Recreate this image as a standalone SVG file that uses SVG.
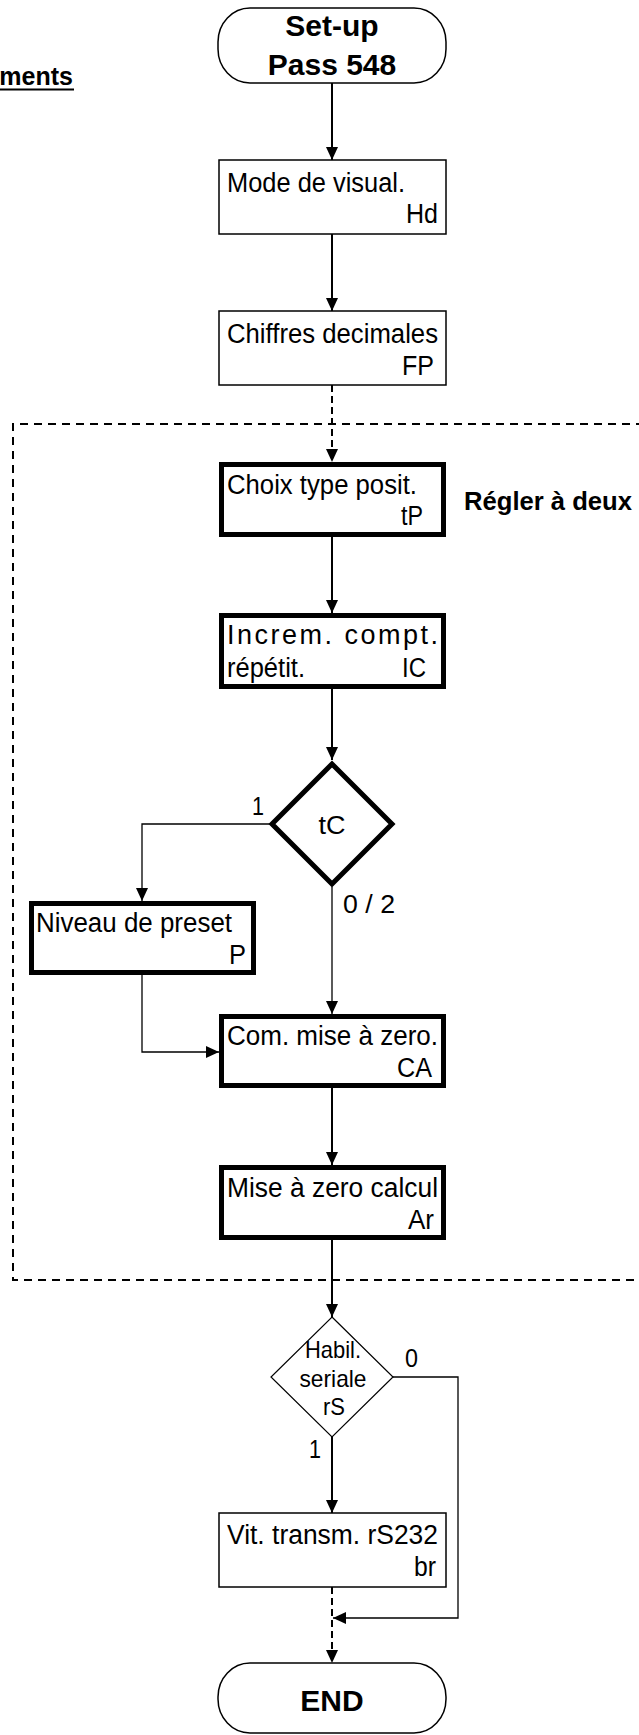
<svg xmlns="http://www.w3.org/2000/svg" width="639" height="1735" viewBox="0 0 639 1735">
  <style>
    .bg { fill: #ffffff; }
    .term { fill: #ffffff; stroke: #000; stroke-width: 1.5; }
    .box { fill: #ffffff; stroke: #000; stroke-width: 1.5; }
    .boxb { fill: #ffffff; stroke: #000; stroke-width: 5; }
    .dia { fill: #ffffff; stroke: #000; stroke-width: 1.2; }
    .diab { fill: #ffffff; stroke: #000; stroke-width: 5; stroke-linejoin: miter; }
    .wire { fill: none; stroke: #000; stroke-width: 2; }
    .wire-thin { fill: none; stroke: #000; stroke-width: 1.3; }
    .dash { fill: none; stroke: #000; stroke-width: 2; stroke-dasharray: 7 4; }
    .frame { fill: none; stroke: #000; stroke-width: 2; stroke-dasharray: 8 6; }
    text { font-family: "Liberation Sans", Arial, sans-serif; fill: #000; }
    .t { font-size: 27px; }
    .lbl { font-size: 26px; }
    .dt { font-size: 24px; }
    .tt { font-size: 30px; font-weight: bold; }
    .hd { font-size: 25px; font-weight: bold; }
    .hd2 { font-size: 26px; font-weight: bold; }
    .mid { text-anchor: middle; }
    .end { text-anchor: end; }
  </style>
  <defs>
    <marker id="arrow" markerUnits="userSpaceOnUse" markerWidth="13" markerHeight="12" refX="13" refY="6" orient="auto">
      <path d="M0,0 L13,6 L0,12 z" fill="#000"/>
    </marker>
  </defs>

  <rect class="bg" x="0" y="0" width="639" height="1735"/>

  <!-- section heading, partly outside the page -->
  <g id="heading">
    <text class="hd end" x="73" y="85">ments</text>
    <rect x="0" y="88.5" width="74" height="2" fill="#000"/>
  </g>

  <!-- group frame for two-step settings -->
  <g id="frame-group">
    <path class="frame" d="M700,424 H13 V1280 H700"/>
    <text class="hd2" x="464" y="510" textLength="168" lengthAdjust="spacingAndGlyphs">Régler à deux</text>
  </g>

  <!-- connectors -->
  <g id="connectors">
    <path class="wire" d="M332,83 V160" marker-end="url(#arrow)"/>
    <path class="wire" d="M332,234 V311" marker-end="url(#arrow)"/>
    <path class="dash" d="M332,385 V462" marker-end="url(#arrow)"/>
    <path class="wire" d="M332,537 V613" marker-end="url(#arrow)"/>
    <path class="wire" d="M332,689 V760" marker-end="url(#arrow)"/>
    <path class="wire-thin" d="M271,824 H142 V901" marker-end="url(#arrow)"/>
    <path class="wire-thin" d="M332,887 V1014" marker-end="url(#arrow)"/>
    <path class="wire-thin" d="M142,975 V1052 H219" marker-end="url(#arrow)"/>
    <path class="wire" d="M332,1088 V1165" marker-end="url(#arrow)"/>
    <path class="wire" d="M332,1240 V1317" marker-end="url(#arrow)"/>
    <path class="wire-thin" d="M393,1377 H458 V1618 H333" marker-end="url(#arrow)"/>
    <path class="wire" d="M332,1437 V1513" marker-end="url(#arrow)"/>
    <path class="dash" d="M332,1587 V1663" marker-end="url(#arrow)"/>
    <text class="lbl" x="252" y="815" textLength="12" lengthAdjust="spacingAndGlyphs">1</text>
    <text class="lbl" x="343" y="913" textLength="52" lengthAdjust="spacingAndGlyphs">0 / 2</text>
    <text class="lbl" x="405" y="1367" textLength="13" lengthAdjust="spacingAndGlyphs">0</text>
    <text class="lbl" x="309" y="1458" textLength="12" lengthAdjust="spacingAndGlyphs">1</text>
  </g>

  <g id="start">
    <rect class="term" x="218" y="8" width="228" height="75" rx="32" ry="34"/>
    <text class="tt mid" x="332" y="36">Set-up</text>
    <text class="tt mid" x="332" y="75">Pass 548</text>
  </g>

  <g id="hd">
    <rect class="box" x="219" y="160" width="227" height="74"/>
    <text class="t" x="227" y="192" textLength="178" lengthAdjust="spacingAndGlyphs">Mode de visual.</text>
    <text class="t end" x="438" y="223" textLength="32" lengthAdjust="spacingAndGlyphs">Hd</text>
  </g>

  <g id="fp">
    <rect class="box" x="219" y="311" width="227" height="74"/>
    <text class="t" x="227" y="343" textLength="211" lengthAdjust="spacingAndGlyphs">Chiffres decimales</text>
    <text class="t end" x="434" y="375" textLength="32" lengthAdjust="spacingAndGlyphs">FP</text>
  </g>

  <g id="tp">
    <rect class="boxb" x="221.5" y="464.5" width="222" height="70"/>
    <text class="t" x="227" y="494" textLength="190" lengthAdjust="spacingAndGlyphs">Choix type posit.</text>
    <text class="t end" x="423" y="525" textLength="22" lengthAdjust="spacingAndGlyphs">tP</text>
  </g>

  <g id="ic">
    <rect class="boxb" x="221.5" y="615.5" width="222" height="71"/>
    <text class="t" x="227" y="644" textLength="211" lengthAdjust="spacing">Increm.  compt.</text>
    <text class="t" x="227" y="677" textLength="78" lengthAdjust="spacingAndGlyphs">répétit.</text>
    <text class="t end" x="426" y="677" textLength="24" lengthAdjust="spacingAndGlyphs">IC</text>
  </g>

  <g id="tc">
    <polygon class="diab" points="332,764 392,824 332,884 272,824"/>
    <text class="lbl mid" x="332" y="834" textLength="27" lengthAdjust="spacingAndGlyphs">tC</text>
  </g>

  <g id="p">
    <rect class="boxb" x="31.5" y="903.5" width="222" height="69"/>
    <text class="t" x="36" y="932" textLength="196" lengthAdjust="spacingAndGlyphs">Niveau de preset</text>
    <text class="t end" x="246" y="964" textLength="17" lengthAdjust="spacingAndGlyphs">P</text>
  </g>

  <g id="ca">
    <rect class="boxb" x="221.5" y="1016.5" width="222" height="69"/>
    <text class="t" x="227" y="1045" textLength="211" lengthAdjust="spacingAndGlyphs">Com. mise à zero.</text>
    <text class="t end" x="432" y="1077" textLength="35" lengthAdjust="spacingAndGlyphs">CA</text>
  </g>

  <g id="ar">
    <rect class="boxb" x="221.5" y="1167.5" width="222" height="70"/>
    <text class="t" x="227" y="1197" textLength="211" lengthAdjust="spacingAndGlyphs">Mise à zero calcul</text>
    <text class="t end" x="434" y="1229" textLength="26" lengthAdjust="spacingAndGlyphs">Ar</text>
  </g>

  <g id="rs">
    <polygon class="dia" points="332,1317 393,1377 332,1437 271,1377"/>
    <text class="dt mid" x="333" y="1358" textLength="56" lengthAdjust="spacingAndGlyphs">Habil.</text>
    <text class="dt mid" x="333" y="1387" textLength="67" lengthAdjust="spacingAndGlyphs">seriale</text>
    <text class="dt mid" x="334" y="1415" textLength="22" lengthAdjust="spacingAndGlyphs">rS</text>
  </g>

  <g id="br">
    <rect class="box" x="219" y="1513" width="227" height="74"/>
    <text class="t" x="227" y="1544" textLength="211" lengthAdjust="spacingAndGlyphs">Vit. transm. rS232</text>
    <text class="t end" x="436" y="1576" textLength="22" lengthAdjust="spacingAndGlyphs">br</text>
  </g>

  <g id="end">
    <rect class="term" x="218" y="1663" width="228" height="70" rx="32" ry="34"/>
    <text class="tt mid" x="332" y="1711">END</text>
  </g>
</svg>
